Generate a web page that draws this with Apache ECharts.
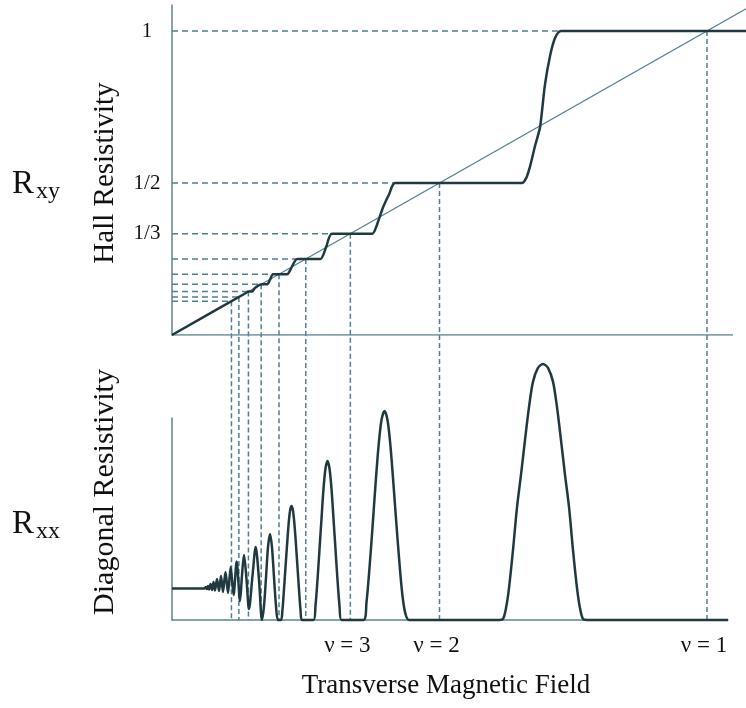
<!DOCTYPE html>
<html>
<head>
<meta charset="utf-8" />
<script src="https://cdn.jsdelivr.net/npm/echarts@6/dist/echarts.min.js"></script>
<style>
  html, body { margin: 0; padding: 0; background: #fff; }
  #chart { width: 746px; height: 708px; }
</style>
</head>
<body>
<div id="chart"></div>
<script>
// filling factors with guide lines, nu = 1 .. 9
const fillingFactors = [1, 2, 3, 4, 5, 6, 7, 8, 9];

// labelled plateaus on the Hall axis
const plateauValues = [1, 1 / 2, 1 / 3];
const plateauLabels = ["1", "1/2", "1/3"];

// labelled filling factors under the field axis
const nuLabelFactors = [3, 2, 1];
const nuLabels = ["ν = 3", "ν = 2", "ν = 1"];

// classical Hall line, R = B
const classicalLine = [
  [0, 0],
  [1.073, 1.073],
];

// Hall resistivity [field, resistivity], field in units where nu = 1 at B = 1
const hallCurve = [
  [0, 0], [0.139, 0.139], [0.143, 0.143], [0.150, 0.143], [0.155, 0.155],
  [0.168, 0.167], [0.178, 0.167], [0.183, 0.181], [0.189, 0.2], [0.215, 0.2],
  [0.224, 0.224], [0.234, 0.25], [0.277, 0.25], [0.288, 0.289], [0.299, 0.333],
  [0.374, 0.333], [0.383, 0.362], [0.394, 0.418], [0.406, 0.464], [0.417, 0.5],
  [0.654, 0.5], [0.662, 0.516], [0.669, 0.553], [0.679, 0.625], [0.688, 0.684],
  [0.697, 0.822], [0.707, 0.921], [0.716, 0.977], [0.727, 1], [1.073, 1],
];

// diagonal resistivity [field, resistivity] (axis top = 100)
const diagonalCurve = [
  [0, 15.6], [0.060, 15.6], [0.0636, 16.3], [0.0654, 15.3], [0.0673, 16.8],
  [0.0692, 15.1], [0.0720, 17.8], [0.0748, 14.9], [0.0776, 18.8], [0.0804, 14.6],
  [0.0841, 20.3], [0.0879, 14.4], [0.0916, 21.8], [0.0953, 13.9], [0.1000, 23.8],
  [0.1047, 13.4], [0.1097, 26.2], [0.1150, 12.4], [0.1209, 28.9], [0.1271, 9.4],
  [0.1308, 22], [0.1346, 32.2], [0.1393, 20], [0.1439, 5.4], [0.1505, 22],
  [0.1564, 36.1], [0.1626, 20], [0.1682, 0],
  [0.1720, 7], [0.1757, 21], [0.1794, 36], [0.1832, 42.6], [0.1869, 36],
  [0.1907, 21], [0.1944, 7], [0.1981, 0],
  [0.2037, 0], [0.2065, 5], [0.2093, 15], [0.2121, 26], [0.2150, 37],
  [0.2178, 47], [0.2206, 54], [0.2234, 56.4], [0.2262, 54], [0.2290, 47],
  [0.2318, 37], [0.2346, 26], [0.2374, 15], [0.2402, 5], [0.2430, 0],
  [0.2645, 0], [0.2682, 7], [0.2720, 20], [0.2757, 35], [0.2794, 50],
  [0.2832, 65], [0.2869, 75], [0.2907, 78.7], [0.2944, 75], [0.2981, 65],
  [0.3019, 50], [0.3056, 35], [0.3093, 20], [0.3131, 7], [0.3168, 0],
  [0.3579, 0], [0.3636, 9], [0.3692, 26], [0.3748, 46], [0.3804, 67],
  [0.3860, 86], [0.3916, 99], [0.3972, 103.5], [0.4028, 99], [0.4084, 86],
  [0.4140, 67], [0.4196, 47], [0.4252, 28], [0.4308, 12], [0.4364, 3], [0.4430, 0],
  [0.6112, 0], [0.6187, 0.5], [0.6243, 5.9], [0.6299, 15.8], [0.6374, 34.7],
  [0.6449, 55.9], [0.6523, 71.8], [0.6598, 89.1], [0.6673, 105.4], [0.6748, 118],
  [0.6841, 124.8], [0.6935, 126.7], [0.7028, 124.8], [0.7121, 118], [0.7196, 105.4],
  [0.7271, 89.1], [0.7346, 71.8], [0.7421, 55.9], [0.7495, 34.7], [0.7570, 15.8],
  [0.7626, 5.9], [0.7682, 0.5], [0.7757, 0], [1.0393, 0],
];

// layout
const upper = { left: 172, top: 5, width: 574, height: 330 };
const lower = { left: 172, top: 418, width: 556, height: 202 };
const upperAxisEnd = 1.0486; // field value where the upper baseline stops
const pxPerField = 535;
const hallMax = 1.0855;
const diagMax = 100;
const pxPerHall = upper.height / hallMax;
// lower baseline expressed in Hall units, so the field guides run down to it
const guideFloor = -(lower.top + lower.height - (upper.top + upper.height)) / pxPerHall;

const axisColor = "#5d8592";
const guideColor = "#4f7f91";
const curveColor = "#1f3940";
const textColor = "#111";
const serif = "Liberation Serif";

const hiddenAxis = {
  axisTick: { show: false },
  axisLabel: { show: false },
  splitLine: { show: false },
  axisLine: { lineStyle: { color: axisColor, width: 1.5 } },
};

const guideSeries = [];
fillingFactors.forEach((nu) => {
  const v = 1 / nu;
  guideSeries.push({
    type: "line",
    xAxisIndex: 0,
    yAxisIndex: 0,
    data: [[0, v], [v, v]],
    showSymbol: false,
    silent: true,
    clip: false,
    lineStyle: { color: guideColor, width: 1.5, type: [6, 4] },
    z: 1,
  });
  guideSeries.push({
    type: "line",
    xAxisIndex: 0,
    yAxisIndex: 0,
    data: [[v, v], [v, guideFloor]],
    showSymbol: false,
    silent: true,
    clip: false,
    lineStyle: { color: guideColor, width: 1.5, type: [5, 3] },
    z: 1,
  });
});

const labelText = {
  fontFamily: serif,
  color: textColor,
  opacity: 1,
  textBorderWidth: 0,
  textShadowBlur: 0,
};

const chart = echarts.init(document.getElementById("chart"));

chart.setOption({
  animation: false,
  backgroundColor: "#fff",
  grid: [
    { left: upper.left, top: upper.top, width: upper.width, height: upper.height },
    { left: lower.left, top: lower.top, width: lower.width, height: lower.height },
  ],
  xAxis: [
    {
      type: "value",
      gridIndex: 0,
      min: 0,
      max: upper.width / pxPerField,
      ...hiddenAxis,
      axisLine: { show: false },
    },
    {
      type: "value",
      gridIndex: 1,
      min: 0,
      max: lower.width / pxPerField,
      ...hiddenAxis,
      name: "Transverse Magnetic Field",
      nameLocation: "middle",
      nameGap: 52,
      nameTextStyle: { fontFamily: serif, fontSize: 27, color: textColor, padding: [0, 8, 0, 0] },
    },
  ],
  yAxis: [
    { type: "value", gridIndex: 0, min: 0, max: hallMax, ...hiddenAxis },
    { type: "value", gridIndex: 1, min: 0, max: diagMax, ...hiddenAxis },
  ],
  graphic: [
    { type: "text", left: 12, top: 168, style: { text: "R", font: "33px " + serif, fill: textColor } },
    { type: "text", left: 36, top: 180, style: { text: "xy", font: "24px " + serif, fill: textColor } },
    { type: "text", left: 12, top: 508, style: { text: "R", font: "33px " + serif, fill: textColor } },
    { type: "text", left: 36, top: 520, style: { text: "xx", font: "24px " + serif, fill: textColor } },
    {
      type: "text",
      x: 105,
      y: 173,
      rotation: Math.PI / 2,
      style: { text: "Hall Resistivity", font: "29px " + serif, fill: textColor, align: "center", verticalAlign: "middle" },
    },
    {
      type: "text",
      x: 105,
      y: 492,
      rotation: Math.PI / 2,
      style: { text: "Diagonal Resistivity", font: "30px " + serif, fill: textColor, align: "center", verticalAlign: "middle" },
    },
  ],
  series: [
    ...guideSeries,
    {
      // upper field axis
      type: "line",
      xAxisIndex: 0,
      yAxisIndex: 0,
      data: [[0, 0], [upperAxisEnd, 0]],
      showSymbol: false,
      silent: true,
      lineStyle: { color: axisColor, width: 1.5 },
      z: 2,
    },
    {
      type: "line",
      xAxisIndex: 0,
      yAxisIndex: 0,
      data: classicalLine,
      showSymbol: false,
      clip: false,
      lineStyle: { color: "#4f8094", width: 1.2 },
      z: 2,
    },
    {
      type: "line",
      xAxisIndex: 0,
      yAxisIndex: 0,
      data: hallCurve,
      showSymbol: false,
      clip: false,
      smooth: 0.25,
      lineStyle: { color: curveColor, width: 2.5 },
      z: 3,
    },
    {
      type: "scatter",
      xAxisIndex: 0,
      yAxisIndex: 0,
      symbolSize: 0,
      silent: true,
      itemStyle: { opacity: 1 },
      data: plateauValues.map((v, i) => ({ value: [0, v], name: plateauLabels[i] })),
      label: {
        show: true,
        position: "inside",
        offset: [-25, 0],
        formatter: "{b}",
        fontSize: 21,
        ...labelText,
      },
    },
    {
      type: "line",
      xAxisIndex: 1,
      yAxisIndex: 1,
      data: diagonalCurve,
      showSymbol: false,
      clip: false,
      smooth: 0.3,
      lineStyle: { color: curveColor, width: 2.5 },
      z: 3,
    },
    {
      type: "scatter",
      xAxisIndex: 1,
      yAxisIndex: 1,
      symbolSize: 0,
      silent: true,
      itemStyle: { opacity: 1 },
      data: nuLabelFactors.map((nu, i) => ({ value: [1 / nu, 0], name: nuLabels[i] })),
      label: {
        show: true,
        position: "inside",
        offset: [-3, 26],
        formatter: "{b}",
        fontSize: 23,
        ...labelText,
      },
    },
  ],
});
</script>
</body>
</html>
